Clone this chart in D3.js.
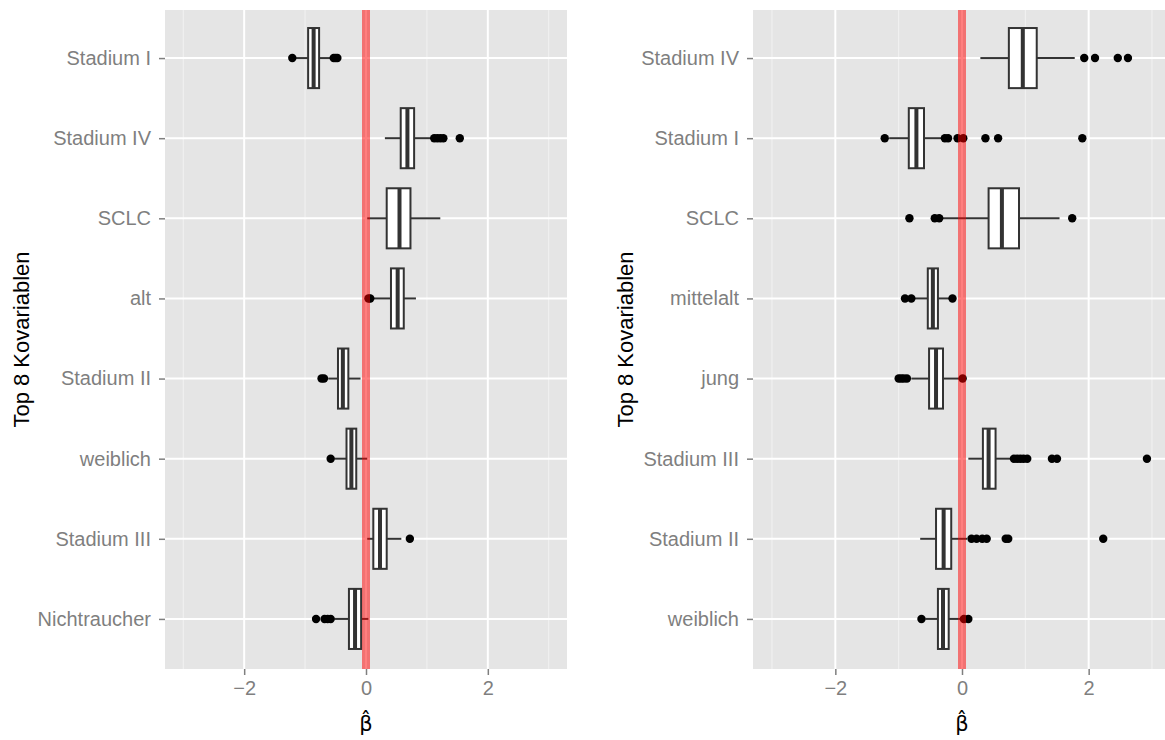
<!DOCTYPE html>
<html>
<head>
<meta charset="utf-8">
<script src="https://cdn.jsdelivr.net/npm/d3@7"></script>
<style>
  html, body { margin: 0; padding: 0; background: #fff; }
  svg { display: block; font-family: "Liberation Sans", Arial, Helvetica, sans-serif; }
</style>
</head>
<body>
<svg id="chart" width="1165" height="740"></svg>
<script>
// Left panel: top 8 covariates, boxplot summaries of the estimated coefficients
const leftCats   = ["Stadium I", "Stadium IV", "SCLC", "alt", "Stadium II", "weiblich", "Stadium III", "Nichtraucher"];
const leftLow    = [-1.15, 0.31, 0.02, 0.09, -0.62, -0.52, 0.02, -0.52];
const leftQ1     = [-0.95, 0.57, 0.34, 0.41, -0.46, -0.32, 0.12, -0.28];
const leftMedian = [-0.86, 0.68, 0.55, 0.52, -0.38, -0.24, 0.23, -0.18];
const leftQ3     = [-0.77, 0.79, 0.73, 0.62, -0.29, -0.16, 0.34, -0.08];
const leftHigh   = [-0.57, 1.07, 1.22, 0.82, -0.09, 0.02, 0.58, 0.04];
const leftOut    = [
  [-1.21, -0.53, -0.50, -0.47],
  [1.12, 1.17, 1.22, 1.27, 1.54],
  [],
  [0.04, 0.07],
  [-0.73, -0.69],
  [-0.58],
  [0.72],
  [-0.82, -0.68, -0.63, -0.58]
];

// Right panel
const rightCats   = ["Stadium IV", "Stadium I", "SCLC", "mittelalt", "jung", "Stadium III", "Stadium II", "weiblich"];
const rightLow    = [0.29, -1.15, -0.31, -0.75, -0.80, 0.10, -0.66, -0.58];
const rightQ1     = [0.74, -0.84, 0.42, -0.54, -0.52, 0.33, -0.41, -0.38];
const rightMedian = [0.96, -0.72, 0.63, -0.46, -0.41, 0.42, -0.29, -0.30];
const rightQ3     = [1.18, -0.60, 0.90, -0.38, -0.30, 0.53, -0.17, -0.21];
const rightHigh   = [1.78, -0.30, 1.54, -0.20, -0.04, 0.77, 0.08, -0.02];
const rightOut    = [
  [1.93, 2.10, 2.46, 2.62],
  [-1.22, -0.27, -0.22, -0.07, 0.02, 0.37, 0.57, 1.90],
  [-0.83, -0.43, -0.36, 1.74],
  [-0.90, -0.80, -0.15],
  [-1.00, -0.96, -0.92, -0.87, 0.01],
  [0.82, 0.87, 0.92, 0.97, 1.03, 1.42, 1.50, 2.92],
  [0.15, 0.23, 0.32, 0.39, 0.69, 0.73, 2.23],
  [-0.64, 0.03, 0.10]
];

const xTicks = [-2, 0, 2];
const xMinor = [-3, -1, 1, 3];
const xDomain = [-3.3, 3.3];
const refLine = 0;
const xTitle = "\u03B2\u0302";   // beta hat
const yTitle = "Top 8 Kovariablen";

const svg = d3.select("#chart");

function drawPanel(opts) {
  const { cats, low, q1, med, q3, high, out, x0, x1, titleX } = opts;
  const top = 10, bottom = 669;
  const x = d3.scaleLinear().domain(xDomain).range([x0, x1]);
  const y = d3.scalePoint().domain(cats).range([top, 667]).padding(0.6);
  const boxH = y.step() * 0.75;

  const g = svg.append("g");

  // panel background
  g.append("rect").attr("x", x0).attr("y", top)
    .attr("width", x1 - x0).attr("height", bottom - top)
    .attr("fill", "#E5E5E5");

  // minor grid
  g.selectAll(".minor").data(xMinor).join("line")
    .attr("x1", d => x(d)).attr("x2", d => x(d))
    .attr("y1", top).attr("y2", bottom)
    .attr("stroke", "#F2F2F2").attr("stroke-width", 1);

  // major grid
  g.selectAll(".majorx").data(xTicks).join("line")
    .attr("x1", d => x(d)).attr("x2", d => x(d))
    .attr("y1", top).attr("y2", bottom)
    .attr("stroke", "#FFFFFF").attr("stroke-width", 2);
  g.selectAll(".majory").data(cats).join("line")
    .attr("x1", x0).attr("x2", x1)
    .attr("y1", d => y(d)).attr("y2", d => y(d))
    .attr("stroke", "#FFFFFF").attr("stroke-width", 2);

  const rows = cats.map((c, i) => ({ c, lo: low[i], q1: q1[i], med: med[i], q3: q3[i], hi: high[i], out: out[i] }));
  const lineCol = "#333333";
  const lw = 2;

  const bg = g.append("g");
  // whiskers
  bg.selectAll(".wl").data(rows).join("line")
    .attr("x1", d => x(d.lo)).attr("x2", d => x(d.q1))
    .attr("y1", d => y(d.c)).attr("y2", d => y(d.c))
    .attr("stroke", lineCol).attr("stroke-width", lw);
  bg.selectAll(".wh").data(rows).join("line")
    .attr("x1", d => x(d.q3)).attr("x2", d => x(d.hi))
    .attr("y1", d => y(d.c)).attr("y2", d => y(d.c))
    .attr("stroke", lineCol).attr("stroke-width", lw);
  // boxes
  bg.selectAll(".box").data(rows).join("rect")
    .attr("x", d => x(d.q1)).attr("width", d => x(d.q3) - x(d.q1))
    .attr("y", d => y(d.c) - boxH / 2).attr("height", boxH)
    .attr("fill", "#FFFFFF").attr("stroke", lineCol).attr("stroke-width", lw);
  // medians
  bg.selectAll(".med").data(rows).join("line")
    .attr("x1", d => x(d.med)).attr("x2", d => x(d.med))
    .attr("y1", d => y(d.c) - boxH / 2).attr("y2", d => y(d.c) + boxH / 2)
    .attr("stroke", lineCol).attr("stroke-width", lw * 2);
  // outliers
  const pts = rows.flatMap(d => d.out.map(v => ({ c: d.c, v })));
  bg.selectAll(".pt").data(pts).join("circle")
    .attr("cx", d => x(d.v)).attr("cy", d => y(d.c)).attr("r", 4.2)
    .attr("fill", "#000000");

  // reference line at zero
  g.append("line")
    .attr("x1", x(refLine)).attr("x2", x(refLine))
    .attr("y1", top).attr("y2", bottom)
    .attr("stroke", "#FF0000").attr("stroke-opacity", 0.5).attr("stroke-width", 8);

  // x axis
  const xa = g.append("g").attr("transform", `translate(0,${bottom})`)
    .call(d3.axisBottom(x).tickValues(xTicks).tickSize(6).tickPadding(6).tickFormat(d3.format("d")));
  xa.select(".domain").remove();
  xa.selectAll("line").attr("stroke", "#7F7F7F").attr("stroke-width", 1.5);
  xa.selectAll("text").attr("fill", "#7F7F7F").attr("font-size", 20)
    .attr("font-family", "Liberation Sans, Arial, sans-serif");

  // y axis
  const ya = g.append("g").attr("transform", `translate(${x0},0)`)
    .call(d3.axisLeft(y).tickSize(6).tickPadding(8));
  ya.select(".domain").remove();
  ya.selectAll("line").attr("stroke", "#7F7F7F").attr("stroke-width", 1.5);
  ya.selectAll("text").attr("fill", "#7F7F7F").attr("font-size", 20)
    .attr("font-family", "Liberation Sans, Arial, sans-serif");

  // x title
  g.append("text").attr("x", x(0)).attr("y", 731).attr("text-anchor", "middle")
    .attr("font-family", "DejaVu Sans").attr("font-size", 21).attr("fill", "#000").text(xTitle);

  // y title
  g.append("text")
    .attr("transform", `translate(${titleX},${(top + bottom) / 2}) rotate(-90)`)
    .attr("text-anchor", "middle").attr("font-size", 22).attr("fill", "#000")
    .text(yTitle);
}

drawPanel({ cats: leftCats, low: leftLow, q1: leftQ1, med: leftMedian, q3: leftQ3, high: leftHigh, out: leftOut,
  x0: 165, x1: 567, titleX: 29 });
drawPanel({ cats: rightCats, low: rightLow, q1: rightQ1, med: rightMedian, q3: rightQ3, high: rightHigh, out: rightOut,
  x0: 753, x1: 1171, titleX: 633 });
</script>
</body>
</html>
